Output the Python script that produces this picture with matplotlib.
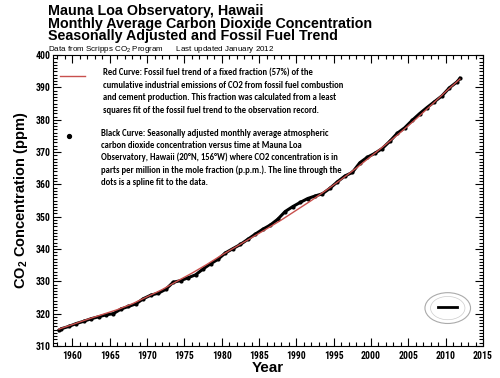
import matplotlib
matplotlib.use("Agg")
import matplotlib.pyplot as plt
from matplotlib.ticker import MultipleLocator
from matplotlib.patches import Circle

# Seasonally adjusted CO2 (ppm) (roughly annual)
years = [1958.2, 1958.5, 1959.5, 1960.5, 1961.5, 1962.5, 1963.5, 1964.5, 1965.5, 1966.5,
         1967.5, 1968.5, 1969.5, 1970.5, 1971.5, 1972.5, 1973.5, 1974.5, 1975.5, 1976.5,
         1977.5, 1978.5, 1979.5, 1980.5, 1981.5, 1982.5, 1983.5, 1984.5, 1985.5, 1986.5,
         1987.5, 1988.5, 1989.5, 1990.5, 1991.5, 1992.5, 1993.5, 1994.5, 1995.5, 1996.5,
         1997.5, 1998.5, 1999.5, 2000.5, 2001.5, 2002.5, 2003.5, 2004.5, 2005.5, 2006.5,
         2007.5, 2008.5, 2009.5, 2010.5, 2011.5, 2011.9]
co2 = [314.8, 315.3, 316.0, 316.9, 317.6, 318.4, 319.0, 319.6, 320.0, 321.4,
       322.2, 323.0, 324.6, 325.7, 326.3, 327.5, 329.7, 330.2, 331.1, 332.0,
       333.8, 335.4, 336.8, 338.8, 340.1, 341.4, 343.0, 344.6, 346.1, 347.4,
       349.2, 351.6, 353.1, 354.4, 355.6, 356.4, 357.1, 358.8, 360.8, 362.6,
       363.7, 366.7, 368.4, 369.6, 371.1, 373.3, 375.8, 377.5, 379.8, 381.9,
       383.8, 385.6, 387.4, 389.9, 391.7, 392.8]

# fossil fuel trend (red curve)
ff_years = [1958.2, 1960, 1962, 1964, 1966, 1968, 1970, 1972, 1974, 1976, 1978, 1980,
            1982, 1984, 1986, 1988, 1990, 1992, 1994, 1996, 1998, 2000, 2002, 2004,
            2006, 2008, 2010, 2011.9]
ff_co2 = [315.2, 316.6, 318.2, 319.7, 321.2, 323.0, 325.2, 327.4, 330.0, 332.5, 335.2, 338.1,
          340.8, 343.5, 346.2, 349.0, 352.0, 355.0, 358.2, 361.5, 365.0, 368.7, 372.4, 376.2,
          380.2, 384.4, 388.7, 392.6]

red_text = ["Red Curve: Fossil fuel trend of a fixed fraction (57%) of the",
            "cumulative industrial emissions of CO2 from fossil fuel combustion",
            "and cement production. This fraction was calculated from a least",
            "squares fit of the fossil fuel trend to the observation record."]
black_text = ["Black Curve: Seasonally adjusted monthly average atmospheric",
              "carbon dioxide concentration versus time at Mauna Loa",
              "Observatory, Hawaii (20\u00b0N, 156\u00b0W) where CO2 concentration is in",
              "parts per million in the mole fraction (p.p.m.). The line through the",
              "dots is a spline fit to the data."]

plt.rcParams['font.family'] = ['Liberation Sans', 'DejaVu Sans']

fig = plt.figure(figsize=(5, 3.78), dpi=100)
ax = fig.add_axes([0.106, 0.085, 0.86, 0.769])

ax.plot(ff_years, ff_co2, color='#c8504d', lw=1.0, zorder=3)
ax.plot(years, co2, color='black', lw=2.2, marker='o', ms=2, zorder=2)

ax.set_xlim(1957.4, 2015)
ax.set_ylim(310, 400)
ax.xaxis.set_major_locator(MultipleLocator(5))
ax.xaxis.set_minor_locator(MultipleLocator(1))
ax.yaxis.set_major_locator(MultipleLocator(10))
ax.yaxis.set_minor_locator(MultipleLocator(1))
ax.tick_params(which='both', direction='in', top=True, right=True, width=0.8)
ax.tick_params(which='major', length=6)
ax.tick_params(axis='x', which='major', pad=4)
ax.tick_params(axis='y', which='major', pad=2)
ax.tick_params(which='minor', length=3)
for lab in ax.get_xticklabels() + ax.get_yticklabels():
    lab.set_family(['Roboto Condensed', 'Liberation Sans'])
    lab.set_fontweight('bold')
    lab.set_fontsize(7.0)
for s in ax.spines.values():
    s.set_linewidth(0.8)

ax.set_xlabel('Year', fontsize=11, fontweight='bold', labelpad=0)
ax.set_ylabel(r'CO$\mathregular{_2}$ Concentration (ppm)', fontsize=10.5,
              fontweight='bold', labelpad=4)

# titles
fig.text(0.096, 0.96, 'Mauna Loa Observatory, Hawaii', fontsize=10.3, fontweight='bold')
fig.text(0.096, 0.927, 'Monthly Average Carbon Dioxide Concentration', fontsize=10.3, fontweight='bold')
fig.text(0.096, 0.894, 'Seasonally Adjusted and Fossil Fuel Trend', fontsize=10.3, fontweight='bold')
fig.text(0.096, 0.866, r'Data from Scripps CO$\mathregular{_2}$ Program      Last updated January 2012',
         fontsize=5.8)

# legend block
ax.plot([0.016, 0.074], [0.928, 0.928], transform=ax.transAxes, color='#c8504d', lw=1.0)
ax.plot([0.037], [0.722], 'o', transform=ax.transAxes, color='black', ms=2.8)
cal = ['Carlito', 'DejaVu Sans']
for i, t in enumerate(red_text):
    ax.text(0.116, 0.938 - i * 0.0423, t, transform=ax.transAxes, fontsize=6.2,
            family=cal, fontweight='bold', va='center')
for i, t in enumerate(black_text):
    ax.text(0.111, 0.732 - i * 0.0423, t, transform=ax.transAxes, fontsize=6.2,
            family=cal, fontweight='bold', va='center')

# small observatory seal in the corner
ax.add_patch(Circle((0.918, 0.13), 0.053, transform=ax.transAxes, fill=False,
                    ec='#aaaaaa', lw=0.8))
ax.add_patch(Circle((0.918, 0.13), 0.04, transform=ax.transAxes, fill=False,
                    ec='#cccccc', lw=0.5))
ax.plot([0.895, 0.94], [0.135, 0.135], transform=ax.transAxes, color='black', lw=2)

fig.savefig('out.png', dpi=100)
